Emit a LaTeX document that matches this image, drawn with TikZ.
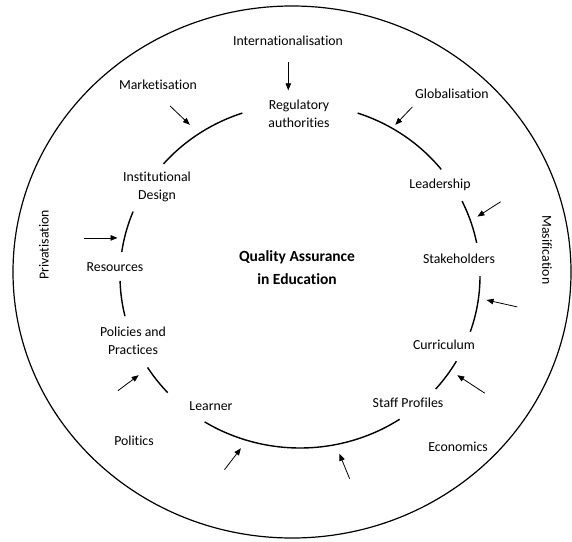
\documentclass[tikz,border=0pt]{standalone}
\usepackage{fontspec}
\setmainfont{Carlito}[Ligatures={NoCommon}]
\usetikzlibrary{arrows.meta}
\begin{document}
\begin{tikzpicture}[x=1pt,y=-1pt,
  lbl/.style={font=\fontsize{13.8}{18.5}\selectfont,align=center,inner sep=0pt},
  ttl/.style={font=\fontsize{15.5}{23}\selectfont\bfseries,align=center,inner sep=0pt},
  ring/.style={line width=1.4pt},
  arr/.style={line width=0.8pt,-{Triangle[length=7pt,width=5.5pt]}}]
\useasboundingbox (0,0) rectangle (572,541);
% outer ellipse
\draw[line width=1.2pt] (292,272) ellipse [x radius=279pt, y radius=266pt];
% inner ring arcs
\foreach \a/\b in {108.7/139.3, 38.3/71.3, 11.1/25.8, -18.9/0, -41.1/-29.7, -122/-56.4, 212.1/222.7, 181.6/193.5, 158/172}
  \draw[ring] plot[domain=\a:\b, samples=40, smooth] ({300+180*cos(\x)},{276-172*sin(\x)});
% labels
\node[lbl] (intl) at (288,41) {Internationalisation};
\node[lbl] (mark) at (158,85) {Marketisation};
\node[lbl] (glob) at (452,94) {Globalisation};
\node[lbl] (reg) at (299,114) {Regulatory\\authorities};
\node[lbl] (inst) at (157,187) {Institutional\\Design};
\node[lbl] (lead) at (440,185) {Leadership};
\node[lbl,rotate=90] (priv) at (44,245) {Privatisation};
\node[lbl] (res) at (115,267) {Resources};
\node[ttl] (qa) at (297,268) {Quality Assurance\\in Education};
\node[lbl] (stak) at (459,259) {Stakeholders};
\node[lbl,rotate=-90] (mas) at (547,250) {Masification};
\node[lbl] (pol) at (133,341) {Policies and\\Practices};
\node[lbl] (cur) at (444,345) {Curriculum};
\node[lbl] (lea) at (211,406) {Learner};
\node[lbl] (staff) at (408,403) {Staff Profiles};
\node[lbl] (polit) at (134,441) {Politics};
\node[lbl] (eco) at (458,447) {Economics};
% arrows
\coordinate (a1s) at (288.3,62);   \coordinate (a1e) at (288.3,90.3);
\coordinate (a2s) at (170,105.9);  \coordinate (a2e) at (189.8,124.8);
\coordinate (a3s) at (412.4,106.9);\coordinate (a3e) at (395.3,124.8);
\coordinate (a4s) at (500.7,201.7);\coordinate (a4e) at (477.4,216.6);
\coordinate (a5s) at (517.2,306.9);\coordinate (a5e) at (486.5,300);
\coordinate (a6s) at (484.7,393.1);\coordinate (a6e) at (457.3,375.2);
\coordinate (a7s) at (349.6,478.6);\coordinate (a7e) at (339.4,453.8);
\coordinate (a8s) at (224.5,469.7);\coordinate (a8e) at (240.9,448.3);
\coordinate (a9s) at (117.9,390.7);\coordinate (a9e) at (138.7,375.2);
\coordinate (a10s) at (83.9,237.9);\coordinate (a10e) at (117.5,237.9);
\foreach \i in {1,...,10} \draw[arr] (a\i s) -- (a\i e);
\end{tikzpicture}
\end{document}
